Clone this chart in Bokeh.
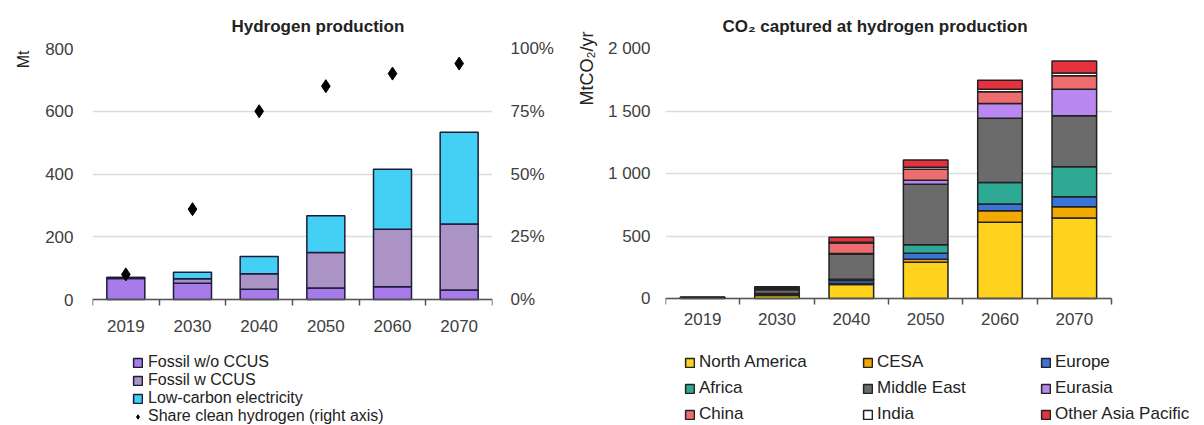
import numpy as np
from bokeh.plotting import figure
from bokeh.layouts import row
from bokeh.models import (Range1d, LinearAxis, FixedTicker, NumeralTickFormatter, Legend,
                          LegendItem, Title, ColumnDataSource, Grid)
from bokeh.embed import file_html
from bokeh.resources import INLINE

# ---------------- data ----------------
years = ["2019", "2030", "2040", "2050", "2060", "2070"]

# Hydrogen production (Mt)
fossil_wo_ccus = [67, 52, 33, 37, 41, 30]
fossil_w_ccus = [3, 14, 49, 113, 183, 211]
low_carbon_elec = [0, 21, 55, 117, 191, 292]
share_clean = [0.10, 0.36, 0.75, 0.85, 0.90, 0.94]

h2_ticks = [0, 200, 400, 600, 800]
share_ticks = [0, 0.25, 0.5, 0.75, 1.0]

# CO2 captured at hydrogen production (MtCO2/yr)
regions = ["North America", "CESA", "Europe", "Africa", "Middle East",
           "Eurasia", "China", "India", "Other Asia Pacific"]
north_america = [4, 25, 112, 290, 610, 645]
cesa = [0, 3, 8, 25, 93, 90]
europe = [1, 10, 25, 48, 53, 80]
africa = [0, 2, 10, 68, 173, 240]
middle_east = [3, 30, 200, 484, 514, 407]
eurasia = [0, 5, 5, 32, 117, 213]
china = [1, 12, 85, 88, 95, 107]
india = [0, 2, 5, 15, 20, 23]
other_asia_pacific = [1, 6, 40, 58, 72, 95]

co2_ticks = [0, 500, 1000, 1500, 2000]
co2_tick_labels = ["0", "500", "1 000", "1 500", "2 000"]

# ---------------- styles ----------------
FONT = "Liberation Sans"
TXT = "#404040"
GRID = "#dcdcdc"

left_colors = ["#a77bea", "#ac93c6", "#44cff5"]
right_colors = ["#ffd21e", "#f2a900", "#3a74d8", "#2eaa94", "#6b6b6b",
                "#b888f0", "#ee6e70", "#ffffff", "#e5323e"]

n = len(years)
xpos = [i + 0.5 for i in range(n)]
year_overrides = {x: y for x, y in zip(xpos, years)}

# layout (pixels): plot area for bars + space below it that holds the legend
PAGE_H = 425
L_TOP, L_BARS_H = 48, 251          # left: top border, height of 0..800
R_TOP, R_BARS_H = 44, 250          # right: top border, height of 0..2000
L_FRAME_H = PAGE_H - L_TOP
R_FRAME_H = PAGE_H - R_TOP
L_W_BORDER_L, L_W_FRAME, L_W_BORDER_R = 92, 400, 62
R_W_BORDER_L, R_W_BARS = 109, 446
R_W_FRAME = 1204 - (L_W_BORDER_L + L_W_FRAME + L_W_BORDER_R) - R_W_BORDER_L

has_cross = "cross_bounds" in Grid.properties()


def style_x_axis(p, standoff):
    ax = p.xaxis[0]
    ax.fixed_location = 0
    ax.bounds = (0, n)
    ax.ticker = FixedTicker(ticks=xpos, minor_ticks=list(range(n + 1)))
    ax.major_label_overrides = year_overrides
    ax.major_tick_line_color = None
    ax.major_tick_out = 0
    ax.major_tick_in = 0
    ax.minor_tick_line_color = "#555555"
    ax.minor_tick_line_width = 1.5
    ax.minor_tick_out = 6
    ax.minor_tick_in = 0
    ax.axis_line_color = "#555555"
    ax.axis_line_width = 1.5
    ax.major_label_text_font = FONT
    ax.major_label_text_font_size = "17px"
    ax.major_label_text_color = TXT
    ax.major_label_standoff = standoff


def style_y_axis(ax, standoff):
    ax.major_tick_line_color = None
    ax.minor_tick_line_color = None
    ax.major_tick_out = 0
    ax.major_tick_in = 0
    ax.axis_line_color = None
    ax.major_label_text_font = FONT
    ax.major_label_text_font_size = "17px"
    ax.major_label_text_color = TXT
    ax.major_label_standoff = standoff


# ---------------- left chart ----------------
src1 = ColumnDataSource(dict(x=xpos, fossil_wo=fossil_wo_ccus, fossil_w=fossil_w_ccus,
                             low_carbon=low_carbon_elec, share=share_clean))

y1_max = h2_ticks[-1]
y1_min = -y1_max * (L_FRAME_H - L_BARS_H) / L_BARS_H
p1 = figure(frame_width=L_W_FRAME, frame_height=L_FRAME_H,
            min_border_left=L_W_BORDER_L, min_border_right=L_W_BORDER_R,
            min_border_top=L_TOP, min_border_bottom=0,
            x_range=Range1d(0, n), y_range=Range1d(y1_min, y1_max),
            output_backend="svg", toolbar_location=None)
p1.outline_line_color = None
p1.xgrid.grid_line_color = None
p1.ygrid.grid_line_color = GRID
p1.ygrid.grid_line_width = 1.5
p1.yaxis.ticker = FixedTicker(ticks=h2_ticks)
style_y_axis(p1.yaxis[0], 19)
style_x_axis(p1, 14)

s_max = share_ticks[-1]
p1.extra_y_ranges = {"share": Range1d(-s_max * (L_FRAME_H - L_BARS_H) / L_BARS_H, s_max)}
rax = LinearAxis(y_range_name="share", ticker=FixedTicker(ticks=share_ticks),
                 formatter=NumeralTickFormatter(format="0%"))
style_y_axis(rax, 18)
p1.add_layout(rax, "right")

bars1 = p1.vbar_stack(["fossil_wo", "fossil_w", "low_carbon"], x="x", width=0.57,
                      source=src1, color=left_colors, line_color="#1c1c3a", line_width=1.5)
dia = p1.scatter("x", "share", source=src1, y_range_name="share", marker="diamond",
                 size=13, color="black")

t1 = Title(text="Hydrogen production", align="left", offset=139, standoff=26,
           text_font=FONT, text_font_size="17px", text_font_style="bold", text_color="#222222")
p1.add_layout(t1, "above")
yl1 = Title(text="Mt", align="right", offset=2, standoff=22, text_font=FONT,
            text_font_size="16px", text_font_style="normal", text_color="#222222")
p1.add_layout(yl1, "left")

leg1 = Legend(items=[LegendItem(label="Fossil w/o CCUS", renderers=[bars1[0]]),
                     LegendItem(label="Fossil w CCUS", renderers=[bars1[1]]),
                     LegendItem(label="Low-carbon electricity", renderers=[bars1[2]]),
                     LegendItem(label="Share clean hydrogen (right axis)", renderers=[dia])],
              location=(40, 0), orientation="vertical", padding=0, spacing=0, margin=0,
              label_height=18, glyph_height=11, glyph_width=11, label_standoff=5,
              label_text_font=FONT, label_text_font_size="16px", label_text_color="#222222",
              background_fill_alpha=0, border_line_color=None)
p1.add_layout(leg1, "center")

# ---------------- right chart ----------------
region_keys = ["north_america", "cesa", "europe", "africa", "middle_east",
               "eurasia", "china", "india", "other_asia_pacific"]
region_vals = [north_america, cesa, europe, africa, middle_east,
               eurasia, china, india, other_asia_pacific]
d2 = dict(x=xpos)
for k, v in zip(region_keys, region_vals):
    d2[k] = v
src2 = ColumnDataSource(d2)

y2_max = co2_ticks[-1]
y2_min = -y2_max * (R_FRAME_H - R_BARS_H) / R_BARS_H
x2_max = n * R_W_FRAME / R_W_BARS
p2 = figure(frame_width=R_W_FRAME, frame_height=R_FRAME_H,
            min_border_left=R_W_BORDER_L, min_border_right=0,
            min_border_top=R_TOP, min_border_bottom=0,
            x_range=Range1d(0, x2_max), y_range=Range1d(y2_min, y2_max),
            output_backend="svg", toolbar_location=None)
p2.outline_line_color = None
p2.xgrid.grid_line_color = None
p2.ygrid.grid_line_color = GRID
p2.ygrid.grid_line_width = 1.5
if has_cross:
    p2.ygrid.cross_bounds = (0, n)
p2.yaxis.ticker = FixedTicker(ticks=co2_ticks)
p2.yaxis.major_label_overrides = {t: l for t, l in zip(co2_ticks, co2_tick_labels)}
style_y_axis(p2.yaxis[0], 15)
style_x_axis(p2, 8)

bars2 = p2.vbar_stack(region_keys, x="x", width=0.6, source=src2, color=right_colors,
                      line_color="#222222", line_width=1.5)

t2 = Title(text="CO\u2082 captured at hydrogen production", align="left", offset=57,
           standoff=26, text_font=FONT, text_font_size="17px", text_font_style="bold",
           text_color="#222222")
p2.add_layout(t2, "above")
yl2 = Title(text="MtCO\u2082/yr", align="right", offset=-17, standoff=16, text_font=FONT,
            text_font_size="18px", text_font_style="normal", text_color="#222222")
p2.add_layout(yl2, "left")

order = [0, 3, 6, 1, 4, 7, 2, 5, 8]  # column-major fill for a 3x3 grid
leg2 = Legend(items=[LegendItem(label=regions[i], renderers=[bars2[i]]) for i in order],
              location=(19, 4), orientation="vertical", nrows=3,
              padding=0, spacing=6, margin=0,
              label_height=20, label_width=157, glyph_height=11, glyph_width=11,
              label_standoff=4,
              label_text_font=FONT, label_text_font_size="17px", label_text_color="#222222",
              background_fill_alpha=0, border_line_color=None)
p2.add_layout(leg2, "center")

layout = row(p1, p2)
open("out.html", "w").write(file_html(layout, INLINE))
